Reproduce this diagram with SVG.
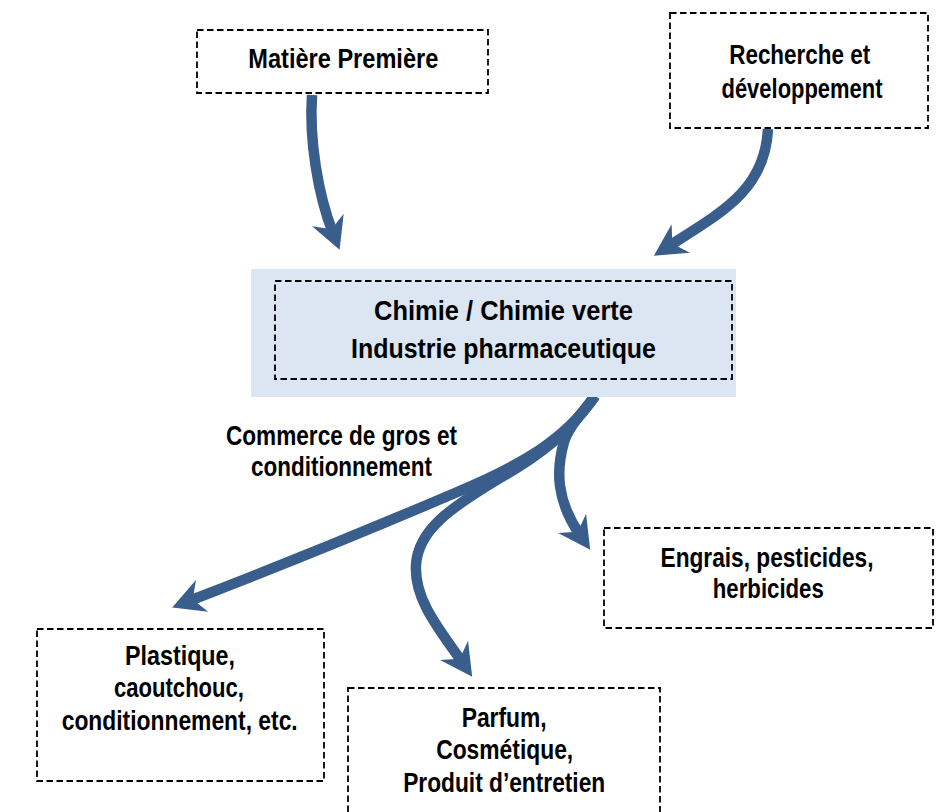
<svg xmlns="http://www.w3.org/2000/svg" width="945" height="812" viewBox="0 0 945 812">
<style>
.box{fill:none;stroke:#000;stroke-width:1.8;stroke-dasharray:6.5 3.5}
.t{font-family:"Liberation Sans",Arial,sans-serif;font-weight:bold;font-size:27px;fill:#000;text-anchor:middle}
.c{fill:none;stroke:#3a5e8c;stroke-width:10.5;marker-end:url(#ah)}
</style>
<defs>
<marker id="ah" markerUnits="userSpaceOnUse" markerWidth="40" markerHeight="40" viewBox="0 -20 34 40" refX="14" refY="0" orient="auto" overflow="visible">
<path d="M32,0 L0,-17 L10,0 L0,17 Z" fill="#3a5e8c"/>
</marker>
</defs>
<rect width="945" height="812" fill="#fff"/>
<g id="connectors">
<path class="c" d="M312,95 C309,140 318,195 333,233"/>
<path class="c" d="M768,129 C765,190 722,212 669,246"/>
<path class="c" d="M595,396 C580,416 568,428 564,442 C556,470 556,500 580,535"/>
<path class="c" d="M595,396 C570,432 540,455 500,478 C450,508 418,530 416,565 C414,600 440,630 462,662"/>
<path class="c" d="M595,396 C565,440 520,466 455,493 C380,525 280,566 189,601"/>
</g>
<g id="matiere">
<rect class="box" x="197" y="30" width="291" height="63"/>
<text class="t" x="343.3" y="67.5" textLength="190" lengthAdjust="spacingAndGlyphs">Matière Première</text>
</g>
<g id="recherche">
<rect class="box" x="670" y="13" width="258" height="115"/>
<text class="t" x="799.7" y="63.5" textLength="141" lengthAdjust="spacingAndGlyphs">Recherche et</text>
<text class="t" x="802" y="97.5" textLength="161" lengthAdjust="spacingAndGlyphs">développement</text>
</g>
<g id="chimie">
<rect x="251" y="269" width="485" height="128" fill="#dce6f2"/>
<rect class="box" x="275" y="281" width="457" height="98"/>
<text class="t" x="503.5" y="320" textLength="259" lengthAdjust="spacingAndGlyphs">Chimie / Chimie verte</text>
<text class="t" x="503.5" y="357.5" textLength="305" lengthAdjust="spacingAndGlyphs">Industrie pharmaceutique</text>
</g>
<g id="commerce">
<text class="t" x="341.5" y="445" textLength="231" lengthAdjust="spacingAndGlyphs">Commerce de gros et</text>
<text class="t" x="341.5" y="476" textLength="181" lengthAdjust="spacingAndGlyphs">conditionnement</text>
</g>
<g id="engrais">
<rect class="box" x="604" y="528" width="329" height="100"/>
<text class="t" x="767" y="566.7" textLength="213" lengthAdjust="spacingAndGlyphs">Engrais, pesticides,</text>
<text class="t" x="768.3" y="598.3" textLength="111" lengthAdjust="spacingAndGlyphs">herbicides</text>
</g>
<g id="plastique">
<rect class="box" x="37" y="629" width="287" height="152"/>
<text class="t" x="180" y="665" textLength="110" lengthAdjust="spacingAndGlyphs">Plastique,</text>
<text class="t" x="179" y="696.7" textLength="130" lengthAdjust="spacingAndGlyphs">caoutchouc,</text>
<text class="t" x="179.7" y="730" textLength="236" lengthAdjust="spacingAndGlyphs">conditionnement, etc.</text>
</g>
<g id="parfum">
<rect class="box" x="348" y="688" width="312" height="140"/>
<text class="t" x="504.2" y="726.7" textLength="85" lengthAdjust="spacingAndGlyphs">Parfum,</text>
<text class="t" x="504.7" y="759" textLength="137" lengthAdjust="spacingAndGlyphs">Cosmétique,</text>
<text class="t" x="504.2" y="791.7" textLength="202" lengthAdjust="spacingAndGlyphs">Produit d’entretien</text>
</g>
</svg>
